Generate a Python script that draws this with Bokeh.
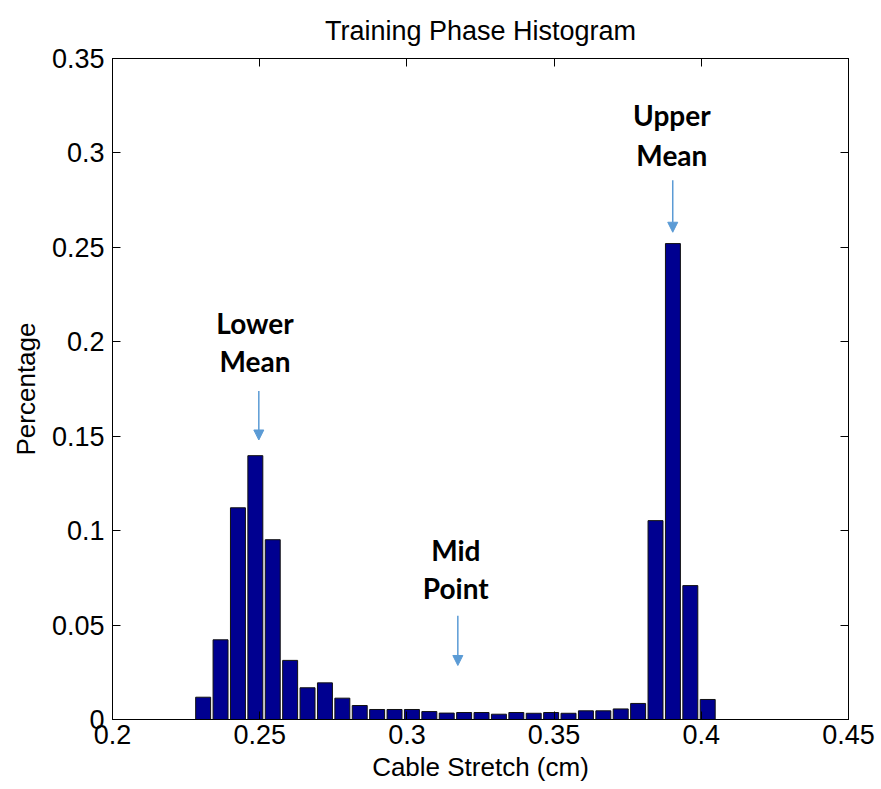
from bokeh.plotting import figure
from bokeh.models import LinearAxis, Arrow, NormalHead, Label, FixedTicker, ColumnDataSource
from bokeh.embed import file_html
from bokeh.resources import INLINE

# bin centers (cm) and bar heights (fraction)
bin_centers = [0.23079, 0.23670, 0.24261, 0.24852, 0.25443, 0.26034, 0.26625, 0.27216,
               0.27807, 0.28398, 0.28989, 0.29580, 0.30171, 0.30762, 0.31353, 0.31944,
               0.32535, 0.33126, 0.33717, 0.34308, 0.34899, 0.35490, 0.36081, 0.36672,
               0.37263, 0.37854, 0.38445, 0.39036, 0.39627, 0.40218]
percentages = [0.0118, 0.0422, 0.1121, 0.1397, 0.0952, 0.0313, 0.0168, 0.0194,
               0.0113, 0.0074, 0.0053, 0.0053, 0.0053, 0.0042, 0.0034, 0.0037,
               0.0037, 0.0028, 0.0037, 0.0033, 0.0037, 0.0033, 0.0046, 0.0046,
               0.0056, 0.0085, 0.1053, 0.2520, 0.0709, 0.0106]
bin_width = 0.00591

x_ticks = [0.2, 0.25, 0.3, 0.35, 0.4, 0.45]
x_tick_labels = ["0.2", "0.25", "0.3", "0.35", "0.4", "0.45"]
y_ticks = [0, 0.05, 0.1, 0.15, 0.2, 0.25, 0.3, 0.35]
y_tick_labels = ["0", "0.05", "0.1", "0.15", "0.2", "0.25", "0.3", "0.35"]

# annotations: (label lines, text x, text y for each line, arrow x, arrow start y, arrow end y)
annot_names = [["Lower", "Mean"], ["Mid", "Point"], ["Upper", "Mean"]]
annot_text_x = [0.2484, 0.3166, 0.3900]
annot_text_y = [[0.2097, 0.1900], [0.0895, 0.0694], [0.3200, 0.2987]]
arrow_x = [0.2497, 0.3173, 0.3903]
arrow_y_start = [0.1740, 0.0550, 0.2855]
arrow_y_end = [0.1480, 0.0286, 0.2580]

TICK_FONT = "Liberation Sans"

p = figure(width=881, height=789, x_range=(0.2, 0.45), y_range=(0, 0.35),
           output_backend="svg", toolbar_location=None,
           min_border_left=112, min_border_right=33, min_border_top=58, min_border_bottom=70,
           title="Training Phase Histogram", x_axis_label="Cable Stretch (cm)",
           y_axis_label="Percentage")
p.background_fill_color = "white"
p.border_fill_color = "white"
p.outline_line_color = "black"
p.xgrid.visible = False
p.ygrid.visible = False

p.title.align = "center"
p.title.vertical_align = "top"
p.title.text_font = TICK_FONT
p.title.text_font_size = "27px"
p.title.text_font_style = "normal"
p.title.text_color = "black"
p.title.standoff = 22

src = ColumnDataSource(dict(x=bin_centers, top=percentages))
p.vbar(x="x", top="top", bottom=0, width=bin_width * 0.86, source=src,
       fill_color="#000090", line_color="#111111", line_width=1)

for ax, ticks, labels in ((p.xaxis[0], x_ticks, x_tick_labels), (p.yaxis[0], y_ticks, y_tick_labels)):
    ax.ticker = FixedTicker(ticks=ticks)
    ax.major_label_overrides = {t: l for t, l in zip(ticks, labels)}
    ax.major_label_text_font = TICK_FONT
    ax.major_label_text_font_size = "27px"
    ax.major_label_text_color = "black"
    ax.axis_label_text_font = TICK_FONT
    ax.axis_label_text_font_size = "26px"
    ax.axis_label_text_font_style = "normal"
    ax.axis_label_text_color = "black"
    ax.major_tick_in = 8
    ax.major_tick_out = 0
    ax.minor_tick_in = 0
    ax.minor_tick_out = 0
    ax.axis_line_color = "black"
    ax.major_tick_line_color = "black"
p.xaxis[0].major_label_standoff = 5
p.xaxis[0].axis_label_standoff = 5
p.yaxis[0].major_label_standoff = 8
p.yaxis[0].axis_label_standoff = 8

top_ax = LinearAxis(ticker=FixedTicker(ticks=x_ticks),
                    major_label_overrides={t: "" for t in x_ticks},
                    major_tick_in=8, major_tick_out=0, minor_tick_in=0, minor_tick_out=0,
                    major_label_standoff=0, axis_line_color="black")
right_ax = LinearAxis(ticker=FixedTicker(ticks=y_ticks),
                      major_label_overrides={t: "" for t in y_ticks},
                      major_tick_in=8, major_tick_out=0, minor_tick_in=0, minor_tick_out=0,
                      major_label_standoff=0, axis_line_color="black")
p.add_layout(top_ax, "above")
p.add_layout(right_ax, "right")

ARROW_COLOR = "#5B9BD5"
for names, tx, tys, ax_, y0, y1 in zip(annot_names, annot_text_x, annot_text_y,
                                        arrow_x, arrow_y_start, arrow_y_end):
    for name, ty in zip(names, tys):
        p.add_layout(Label(x=tx, y=ty, text=name, text_align="center", text_baseline="middle",
                           text_font="Lato", text_font_style="bold", text_font_size="28px",
                           text_color="black"))
    p.add_layout(Arrow(x_start=ax_, y_start=y0, x_end=ax_, y_end=y1,
                       line_color=ARROW_COLOR, line_width=1.5,
                       end=NormalHead(size=10, fill_color=ARROW_COLOR, line_color=ARROW_COLOR)))

open("out.html", "w").write(file_html(p, INLINE))
